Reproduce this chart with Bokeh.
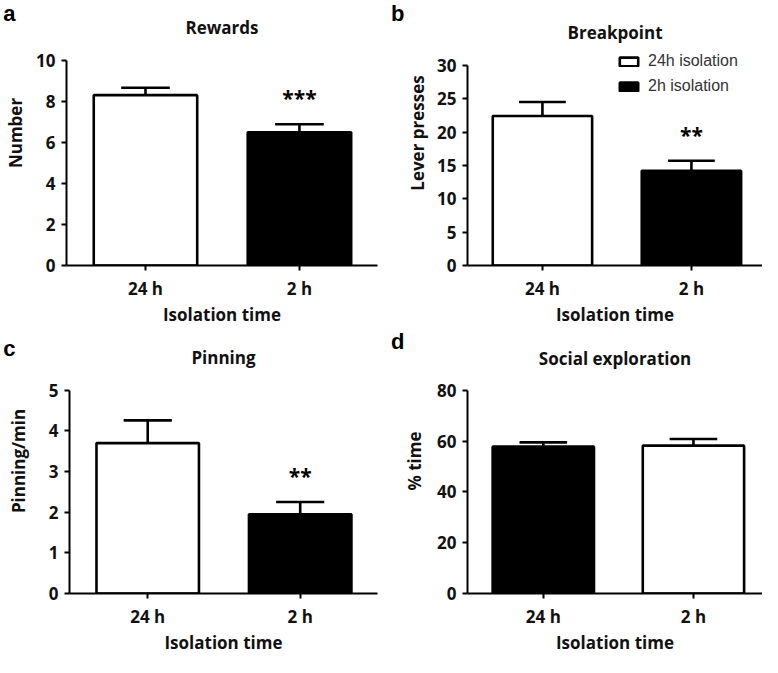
from bokeh.plotting import figure
from bokeh.models import (ColumnDataSource, Range1d, Label, Legend, LegendItem,
                          LinearAxis, FixedTicker, PrintfTickFormatter)
from bokeh.layouts import row, column
from bokeh.embed import file_html
from bokeh.resources import INLINE
from bokeh.core.properties import value

# ---------------- data ----------------
groups = ["24 h", "2 h"]
x_label = "Isolation time"
legend_labels = ["24h isolation", "2h isolation"]

rewards_mean = [8.30, 6.49]
rewards_sem = [0.36, 0.39]
rewards_ticks = [0, 2, 4, 6, 8, 10]
rewards_stars = ["", "***"]

breakpoint_mean = [22.4, 14.2]
breakpoint_sem = [2.1, 1.5]
breakpoint_ticks = [0, 5, 10, 15, 20, 25, 30]
breakpoint_stars = ["", "**"]

pinning_mean = [3.70, 1.95]
pinning_sem = [0.56, 0.30]
pinning_ticks = [0, 1, 2, 3, 4, 5]
pinning_stars = ["", "**"]

social_mean = [57.8, 58.2]
social_sem = [1.7, 2.6]
social_ticks = [0, 20, 40, 60, 80]
social_stars = ["", ""]

# ---------------- style ----------------
FONT = "Open Sans"
LETTER_FONT = "Liberation Sans"
LW = 2.6


def build(letter, title, ylabel, means, sems, ticks, stars, fills,
          size, xr, bar_w, borders, frame_bottom_px, ymax_px, ylabel_standoff,
          title_base_px, letter_px, letter_standoff, legend_loc=None):
    w, h = size
    left, right, bottom = borders
    ppu = (frame_bottom_px - ymax_px) / (ticks[-1] - ticks[0])   # pixels per unit
    to_data = lambda py: ticks[0] + (frame_bottom_px - py) / ppu
    p = figure(width=w, height=h, output_backend="svg", toolbar_location=None,
               x_range=Range1d(*xr), y_range=Range1d(ticks[0], to_data(0)),
               min_border_left=left, min_border_right=right,
               min_border_top=0, min_border_bottom=bottom)
    p.outline_line_color = None
    p.xgrid.visible = False
    p.ygrid.visible = False
    p.background_fill_color = "white"
    p.border_fill_color = "white"

    xs = list(range(len(groups)))
    err = [m + s for m, s in zip(means, sems)]
    src = ColumnDataSource(dict(x=xs, top=means, err=err, fill=fills, stars=stars))
    r = p.vbar(x="x", top="top", bottom=0, width=bar_w, fill_color="fill",
               line_color="black", line_width=LW, source=src)
    cap = bar_w * 0.235
    p.segment(x0="x", y0="top", x1="x", y1="err", source=src,
              line_color="black", line_width=LW)
    p.segment(x0=[x - cap for x in xs], y0=err, x1=[x + cap for x in xs], y1=err,
              line_color="black", line_width=LW)
    p.text(x="x", y="err", text="stars", source=src, text_align="center",
           text_baseline="alphabetic", y_offset=-26, text_font=value(FONT),
           text_font_style="bold", text_font_size="21px", text_color="black")

    # title inside the (extended) frame
    p.add_layout(Label(x=(xr[0] + xr[1]) / 2, y=to_data(title_base_px), text=title,
                       text_align="center", text_baseline="alphabetic",
                       text_font=FONT, text_font_style="bold",
                       text_font_size="17px", text_color="#111111"))

    for ax in (p.xaxis[0], p.yaxis[0]):
        ax.axis_line_width = 2
        ax.axis_line_color = "black"
        ax.major_tick_line_width = 2
        ax.major_tick_line_color = "black"
        ax.major_tick_out = 5
        ax.major_tick_in = 0
        ax.minor_tick_line_color = None
        ax.major_label_text_font = FONT
        ax.major_label_text_font_style = "bold"
        ax.major_label_text_font_size = "17px"
        ax.major_label_text_color = "#111111"
        ax.axis_label_text_font = FONT
        ax.axis_label_text_font_style = "bold"
        ax.axis_label_text_font_size = "17px"
        ax.axis_label_text_color = "#111111"
        ax.major_label_standoff = 6

    p.xaxis.ticker = xs
    p.xaxis.major_label_overrides = {i: g for i, g in enumerate(groups)}
    p.xaxis.axis_label = x_label
    p.xaxis.axis_label_standoff = 0
    p.yaxis.ticker = ticks
    p.yaxis.bounds = (ticks[0], ticks[-1])
    p.yaxis.axis_label = ylabel
    p.yaxis.axis_label_standoff = ylabel_standoff

    # panel letter as the single label of an outer, line-less axis
    la = LinearAxis(ticker=FixedTicker(ticks=[to_data(letter_px)]),
                    formatter=PrintfTickFormatter(format=letter),
                    axis_line_color=None, major_tick_line_color=None,
                    minor_tick_line_color=None, major_tick_out=0, major_tick_in=0,
                    major_label_standoff=letter_standoff,
                    major_label_text_font=LETTER_FONT,
                    major_label_text_font_style="bold",
                    major_label_text_font_size="22px",
                    major_label_text_color="black")
    p.add_layout(la, "left")

    if legend_loc is not None:
        items = [LegendItem(label=legend_labels[0], renderers=[r], index=0),
                 LegendItem(label=legend_labels[1], renderers=[r], index=1)]
        lg = Legend(items=items, location=legend_loc, padding=0, margin=0,
                    spacing=5, label_height=20, glyph_height=11, glyph_width=23,
                    label_standoff=8, border_line_alpha=0, background_fill_alpha=0,
                    label_text_font=LETTER_FONT, label_text_font_size="16px",
                    label_text_color="#333333")
        p.add_layout(lg)
    return p


pa = build("a", "Rewards", "Number", rewards_mean, rewards_sem, rewards_ticks,
           rewards_stars, ["white", "black"], (381, 328), (-0.513, 1.507), 0.672,
           (66, 4, 62), 266, 60, 6, 27.5, 12.4, -14)
pb = build("b", "Breakpoint", "Lever presses", breakpoint_mean, breakpoint_sem,
           breakpoint_ticks, breakpoint_stars, ["white", "black"], (381, 328),
           (-0.503, 1.477), 0.667, (86, 0, 62), 266, 65, 5, 32, 12.4, -1,
           legend_loc=(150, 169))
pc = build("c", "Pinning", "Pinning/min", pinning_mean, pinning_sem, pinning_ticks,
           pinning_stars, ["white", "black"], (381, 328), (-0.513, 1.507), 0.672,
           (66, 4, 62), 266, 62, 16, 28.7, 5.0, -12)
pd_ = build("d", "Social exploration", "% time", social_mean, social_sem,
            social_ticks, social_stars, ["black", "white"], (381, 328),
            (-0.505, 1.46), 0.675, (86, 0, 62), 266, 62, 8, 30, 12.4, -4)

layout = column(row(pa, pb), row(pc, pd_))

open("out.html", "w").write(file_html(layout, INLINE))
